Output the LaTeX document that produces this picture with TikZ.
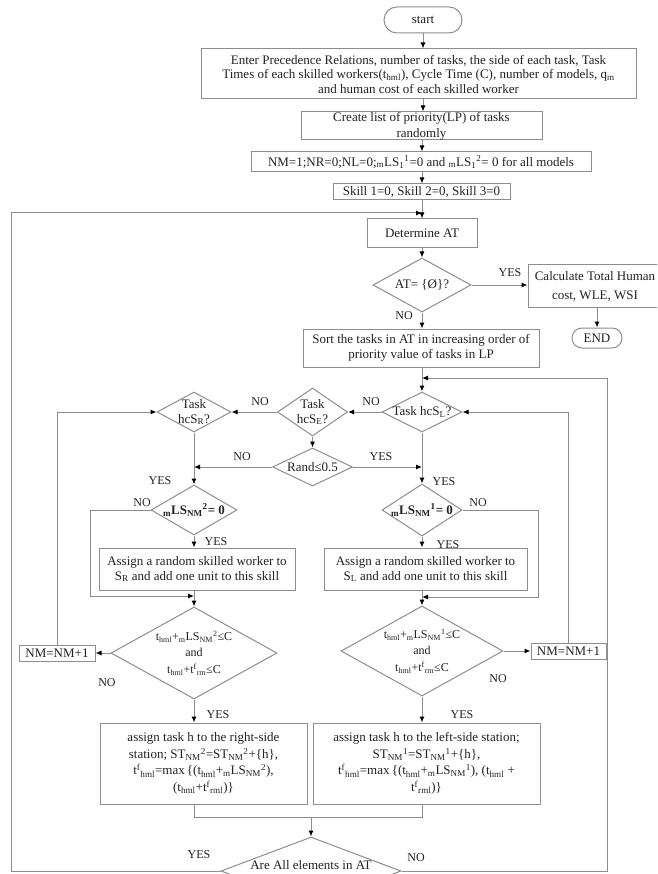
\documentclass[tikz,border=0pt]{standalone}
\usepackage{fontspec}
\setmainfont{Liberation Serif}
\usetikzlibrary{arrows.meta,shapes.geometric}
\definecolor{linegray}{HTML}{8E8E8E}
\definecolor{textc}{HTML}{222222}
\newcommand\sbs[1]{\textsubscript{#1}}
\newcommand\sps[1]{\textsuperscript{#1}}
\newcommand\tsf[1]{t\sps{f}\sbs{#1}}
\newcommand\fsA{\fontsize{13}{15}\selectfont}
\newcommand\fsB{\fontsize{12}{16.5}\selectfont}
\tikzset{
  box/.style={draw=linegray, line width=1, rectangle, inner sep=0, align=center, font=\fsA, text=textc},
  dia/.style={draw=linegray, line width=1, diamond, inner sep=0},
  txt/.style={inner sep=0, align=center, font=\fsA, text=textc},
  lbl/.style={inner sep=0, font=\fontsize{12}{14}\selectfont, text=textc},
  conn/.style={draw=linegray, line width=1, -{Latex[length=6,width=5,color=black]}},
  plain/.style={draw=linegray, line width=1},
}
\begin{document}
\begin{tikzpicture}[x=1pt,y=-1pt]
\clip (0,0) rectangle (657,874);
\fill[white] (0,0) rectangle (657,874);
% nodes
\node[box, rounded corners=13, minimum width=78, minimum height=26] (start) at (423,20) {start};
\node[box, minimum width=435, minimum height=50, font=\fontsize{13}{14.5}\selectfont] (enter) at (418.5,74)
 {Enter Precedence Relations, number of tasks, the side of each task, Task\\
  Times of each skilled workers(t\sbs{hml}), Cycle Time (C), number of models, q\sbs{m}\\
  and human cost of each skilled worker};
\node[box, minimum width=241, minimum height=28, font=\fontsize{13}{16}\selectfont] (create) at (421.5,126)
 {Create list of priority(LP) of tasks\\randomly};
\node[box, minimum width=340, minimum height=20] (init) at (421,162)
 {NM=1;NR=0;NL=0;\sbs{m}LS\sbs{1}\sps{1}=0 and \sbs{m}LS\sbs{1}\sps{2}= 0 for all models};
\node[box, minimum width=177, minimum height=16] (skill) at (421.5,192) {Skill 1=0, Skill 2=0, Skill 3=0};
\node[box, minimum width=110, minimum height=29] (det) at (422,233.5) {Determine AT};
\node[dia, minimum width=98, minimum height=54] (at) at (422,285) {};
\node[txt] at (at) {AT= \{Ø\}?};
\node[box, minimum width=134, minimum height=42, font=\fontsize{13}{19}\selectfont] (calc) at (595,286)
 {Calculate Total Human\\cost, WLE, WSI};
\node[box, rounded corners=10, minimum width=50, minimum height=20] (endn) at (597,338) {END};
\node[box, minimum width=236, minimum height=38] (sort) at (421,348)
 {Sort the tasks in AT in increasing order of\\priority value of tasks in LP};
\node[dia, minimum width=80, minimum height=40] (tl) at (422,412) {};
\node[txt] at (tl) {Task hcS\sbs{L}?};
\node[dia, minimum width=70, minimum height=48] (te) at (312.5,412) {};
\node[txt] at (te) {Task\\hcS\sbs{E}?};
\node[dia, minimum width=74, minimum height=40] (tr) at (194,412) {};
\node[txt] at (tr) {Task\\hcS\sbs{R}?};
\node[dia, minimum width=80, minimum height=38] (rand) at (312.5,467) {};
\node[txt] at (rand) {Rand≤0.5};
\node[dia, minimum width=86, minimum height=50] (ls2) at (194,510) {};
\node[txt, font=\fsA\bfseries] at (ls2) {\sbs{m}LS\sbs{NM}\sps{2}= 0};
\node[dia, minimum width=80, minimum height=52] (ls1) at (422,510) {};
\node[txt, font=\fsA\bfseries] at (ls1) {\sbs{m}LS\sbs{NM}\sps{1}= 0};
\node[box, minimum width=196, minimum height=42] (asr) at (197,569)
 {Assign a random skilled worker to\\S\sbs{R} and add one unit to this skill};
\node[box, minimum width=203, minimum height=42] (asl) at (425.5,569)
 {Assign a random skilled worker to\\S\sbs{L} and add one unit to this skill};
\node[dia, minimum width=166, minimum height=92] (cr) at (194,653) {};
\node[txt, font=\fsB] at (cr) {t\sbs{hml}+\sbs{m}LS\sbs{NM}\sps{2}≤C\\and\\t\sbs{hml}+\tsf{rm}≤C};
\node[dia, minimum width=162, minimum height=90] (cl) at (422,651) {};
\node[txt, font=\fsB] at (cl) {t\sbs{hml}+\sbs{m}LS\sbs{NM}\sps{1}≤C\\and\\t\sbs{hml}+\tsf{rm}≤C};
\node[box, minimum width=76, minimum height=16] (nml) at (57,653) {NM=NM+1};
\node[box, minimum width=75, minimum height=16] (nmr) at (568.5,651) {NM=NM+1};
\node[box, minimum width=207, minimum height=81, font=\fontsize{13}{16.5}\selectfont] (fr) at (203.5,763.5)
 {assign task h to the right-side\\station; ST\sbs{NM}\sps{2}=ST\sbs{NM}\sps{2}+\{h\},\\
  \tsf{hml}=max\,\{(t\sbs{hml}+\sbs{m}LS\sbs{NM}\sps{2}),\\(t\sbs{hml}+\tsf{rml})\}};
\node[box, minimum width=227, minimum height=81, font=\fontsize{13}{16.5}\selectfont] (fl) at (426.5,763.5)
 {assign task h to the left-side station;\\ST\sbs{NM}\sps{1}=ST\sbs{NM}\sps{1}+\{h\},\\
  \tsf{hml}=max\,\{(t\sbs{hml}+\sbs{m}LS\sbs{NM}\sps{1}), (t\sbs{hml} +\\\tsf{rml})\}};
\node[dia, minimum width=180, minimum height=68] (all) at (311,871) {};
\node[txt] at (311,865) {Are All elements in AT};
% junctions
\coordinate (jtop) at (422,213);
\coordinate (jmid) at (422,378);
\coordinate (jrl) at (422,467);
\coordinate (jrr) at (194,467);
\coordinate (jnl) at (194,596);
\coordinate (jnr) at (422,597);
\coordinate (jbot) at (311,817);
% connectors
\draw[conn] (start.south -| start) -- (start.south |- enter.north);
\draw[conn] (enter.south -| start) -- (create.north -| start);
\draw[conn] (create.south -| det) -- (init.north -| det);
\draw[conn] (init.south -| det) -- (skill.north -| det);
\draw[conn] (skill.south -| det) -- (det.north);
\draw[conn] (det.south) -- (at.north);
\draw[conn] (at.east) -- (at.east -| calc.west);
\draw[conn] (calc.south -| endn) -- (endn.north);
\draw[conn] (at.south) -- (at.south |- sort.north);
\draw[conn] (sort.south -| tl) -- (tl.north);
\draw[conn] (tl.west) -- (te.east);
\draw[conn] (te.west) -- (tr.east);
\draw[conn] (te.south) -- (rand.north);
\draw[conn] (rand.east) -- (jrl);
\draw[conn] (rand.west) -- (jrr);
\draw[conn] (tl.south) -- (ls1.north);
\draw[conn] (tr.south) -- (ls2.north);
\draw[conn] (ls2.south) -- (ls2.south |- asr.north);
\draw[conn] (ls1.south) -- (ls1.south |- asl.north);
\draw[conn] (ls2.west) -| (90,596) -- (jnl);
\draw[conn] (ls1.east) -| (538,597) -- (jnr);
\draw[conn] (asr.south -| cr) -- (cr.north);
\draw[conn] (asl.south -| cl) -- (cl.north);
\draw[conn] (cr.west) -- (nml.east);
\draw[conn] (cl.east) -- (nmr.west);
\draw[conn] (nml.north) |- (tr.west);
\draw[conn] (nmr.north) |- (tl.east);
\draw[conn] (cr.south) -- (cr.south |- fr.north);
\draw[conn] (cl.south) -- (cl.south |- fl.north);
\draw[plain] (fr.south -| cr) |- (jbot);
\draw[plain] (fl.south -| cl) |- (jbot);
\draw[conn] (jbot) -- (all.north);
\draw[conn] (all.west) -| (11,213) -- (jtop);
\draw[conn] (all.east) -| (607,378) -- (jmid);
% labels
\node[lbl] at (510,273) {YES};
\node[lbl] at (404,316) {NO};
\node[lbl] at (371,402) {NO};
\node[lbl] at (260,402) {NO};
\node[lbl] at (242,457) {NO};
\node[lbl] at (381,457) {YES};
\node[lbl] at (160,481) {YES};
\node[lbl] at (444,482) {YES};
\node[lbl] at (142,503) {NO};
\node[lbl] at (478,503) {NO};
\node[lbl] at (216,542) {YES};
\node[lbl] at (448,545) {YES};
\node[lbl] at (107,683) {NO};
\node[lbl] at (498,679) {NO};
\node[lbl] at (218,715) {YES};
\node[lbl] at (462,715) {YES};
\node[lbl] at (199,855) {YES};
\node[lbl] at (416,858) {NO};
\end{tikzpicture}
\end{document}
